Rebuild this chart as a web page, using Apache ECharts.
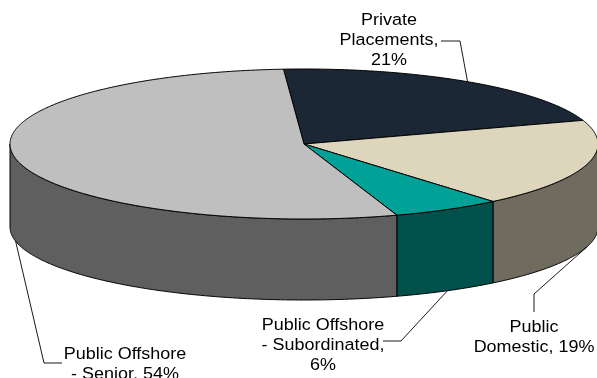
<!DOCTYPE html>
<html>
<head>
<meta charset="utf-8">
<style>html,body{margin:0;padding:0;background:#fff;overflow:hidden}#chart{width:597px;height:378px}</style>
<script src="https://cdn.jsdelivr.net/npm/echarts@6/dist/echarts.min.js"></script>
</head>
<body>
<div id="chart"></div>
<script>
// Funding mix, drawn clockwise from the top of the disc
const categories = ['Private Placements', 'Public Domestic', 'Public Offshore - Subordinated', 'Public Offshore - Senior'];
const shares = [21, 19, 6, 54];
const labelTexts = ['Private\nPlacements,\n21%', 'Public\nDomestic, 19%', 'Public Offshore\n- Subordinated,\n6%', 'Public Offshore\n- Senior, 54%'];
const topColors = ['#1c2735', '#ddd6bc', '#00a297', '#bfbfbf'];
const wallColors = ['#0e141b', '#6f6b5e', '#00514b', '#5f5f5f'];

// Tilted disc geometry; the lower rim is slightly flatter than the upper one
const disc = { cx: 304, cy: 144, rx: 294, ry: 75, baseRy: 73, depth: 83, startDeg: -4 };
// Label centre, then the bends of its leader line; the leader starts on the slice's rim
const callouts = [
  { at: [389, 40], bends: [[460, 41], [441, 41]], onWall: false },
  { at: [534, 337], bends: [[534, 294], [534, 312]], onWall: true },
  { at: [323, 345], bends: [[401, 341], [383, 341]], onWall: true },
  { at: [125, 364], bends: [[44, 363], [62, 363]], onWall: true }
];

const total = shares.reduce((a, b) => a + b, 0);
const rim = (deg, lower) => {
  const t = deg * Math.PI / 180;
  return [
    disc.cx + disc.rx * Math.sin(t),
    lower ? disc.cy + disc.depth - disc.baseRy * Math.cos(t) : disc.cy - disc.ry * Math.cos(t)
  ];
};
const arc = (from, to, lower) => {
  const pts = [];
  const n = Math.max(2, Math.ceil(Math.abs(to - from) * 2));
  for (let i = 0; i <= n; i++) pts.push(rim(from + (to - from) * i / n, lower));
  return pts;
};
const edge = { stroke: '#000', lineWidth: 1, lineJoin: 'round' };

function renderSlice(params, api) {
  const i = params.dataIndex;
  let before = 0;
  for (let k = 0; k < i; k++) before += shares[k];
  const from = disc.startDeg + before / total * 360;
  const to = from + api.value(0) / total * 360;
  const children = [];

  // The wall only shows along the near half of the disc
  const wFrom = Math.max(from, 90), wTo = Math.min(to, 270);
  if (wTo > wFrom) {
    children.push({
      type: 'polygon',
      shape: { points: arc(wFrom, wTo, false).concat(arc(wTo, wFrom, true)) },
      style: Object.assign({ fill: wallColors[i] }, edge)
    });
  }
  children.push({
    type: 'polygon',
    shape: { points: [[disc.cx, disc.cy]].concat(arc(from, to, false)) },
    style: Object.assign({ fill: topColors[i] }, edge)
  });

  const c = callouts[i];
  const anchor = rim((from + to) / 2, c.onWall);
  children.push({
    type: 'polyline',
    shape: { points: [anchor].concat(c.bends) },
    style: { fill: null, stroke: '#000', lineWidth: 0.9 },
    z2: 5
  });
  children.push({
    type: 'text',
    x: c.at[0],
    y: c.at[1],
    scaleX: 1.07,
    style: {
      text: labelTexts[i], x: 0, y: 0, align: 'center', verticalAlign: 'middle',
      font: '16.8px "Liberation Sans", Arial, sans-serif', lineHeight: 20, fill: '#000'
    },
    z2: 6
  });
  return { type: 'group', children };
}

const chart = echarts.init(document.getElementById('chart'), null, { renderer: 'canvas' });
chart.setOption({
  animation: false,
  backgroundColor: '#ffffff',
  series: [{
    type: 'custom',
    coordinateSystem: 'none',
    name: 'Funding mix',
    data: shares.map((v, i) => ({ name: categories[i], value: [v] })),
    renderItem: renderSlice
  }]
});
</script>
</body>
</html>
